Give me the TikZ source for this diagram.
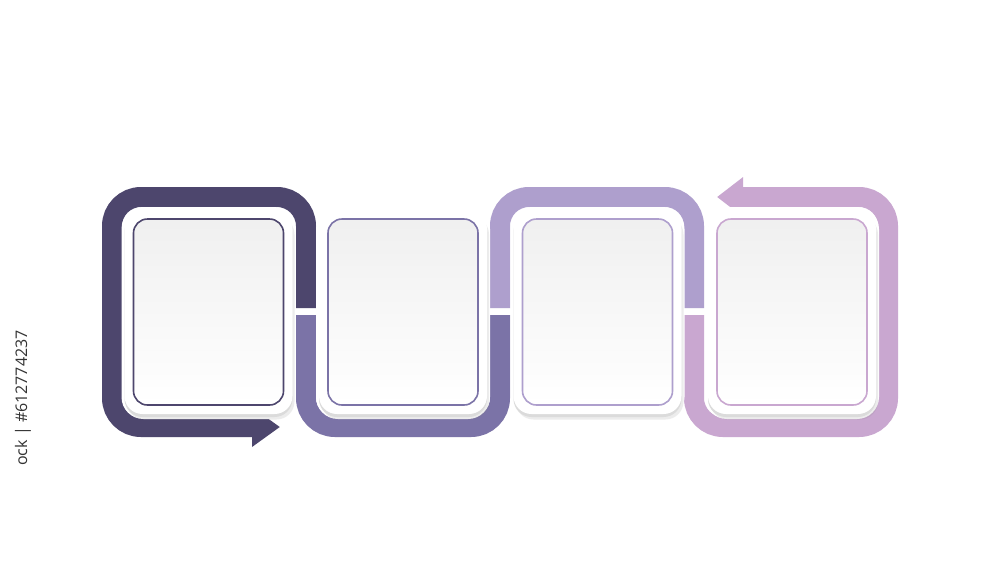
\documentclass[tikz,border=0pt]{standalone}
\usepackage{fontspec}
\setmainfont{Open Sans}
\usetikzlibrary{arrows.meta,shadows}
\definecolor{bandA}{HTML}{4D466D}
\definecolor{bandB}{HTML}{7B73A7}
\definecolor{bandC}{HTML}{AE9FCD}
\definecolor{bandD}{HTML}{C9A7D0}
\begin{document}
\begin{tikzpicture}[x=1pt,y=-1pt,
  band/.style={line width=20pt, rounded corners=29pt},
  halo/.style={fill=white, rounded corners=22pt, minimum width=174pt, minimum height=212pt, inner sep=0pt},
  edgebox/.style={fill=black!14, rounded corners=18pt, minimum width=168pt, minimum height=203pt, inner sep=0pt,
     drop shadow={shadow xshift=2pt, shadow yshift=-2.5pt, opacity=0.15}},
  face/.style={fill=white, rounded corners=18pt, minimum width=168pt, minimum height=203pt, inner sep=0pt},
  innerbox/.style={rounded corners=14pt, line width=1.6pt, top color=black!6, bottom color=white,
     minimum width=150pt, minimum height=186pt, inner sep=0pt}]
\useasboundingbox (0,0) rectangle (1000,563);
\fill[white] (0,0) rectangle (1000,563);

% bands
\draw[band, draw=bandA, {Triangle[length=28pt,width=38pt]}-] (280,427) -- (112,427) -- (112,197) -- (306,197) -- (306,308);
\draw[band, draw=bandB] (306,315) -- (306,427) -- (500,427) -- (500,315);
\draw[band, draw=bandC] (500,308) -- (500,197) -- (694,197) -- (694,308);
\draw[band, draw=bandD, -{Triangle[length=26pt,width=38pt]}] (694,315) -- (694,427) -- (888,427) -- (888,197) -- (717,197);

% cards
\foreach \cx/\col/\n in {208.5/bandA/1, 403/bandB/2, 597.5/bandC/3, 792/bandD/4}{
  \node[halo] (halo\n) at (\cx,313) {};
  \node[edgebox] (edge\n) at (\cx,315.5) {};
  \node[face] (face\n) at (\cx,312.5) {};
  \node[innerbox, draw=\col] (card\n) at (\cx,312) {};
}

\node[rotate=90, text=black!80, font=\fontsize{16}{16}\selectfont, inner sep=0pt] (wm) at (23,398) {ock | \#612774237};
\end{tikzpicture}
\end{document}
